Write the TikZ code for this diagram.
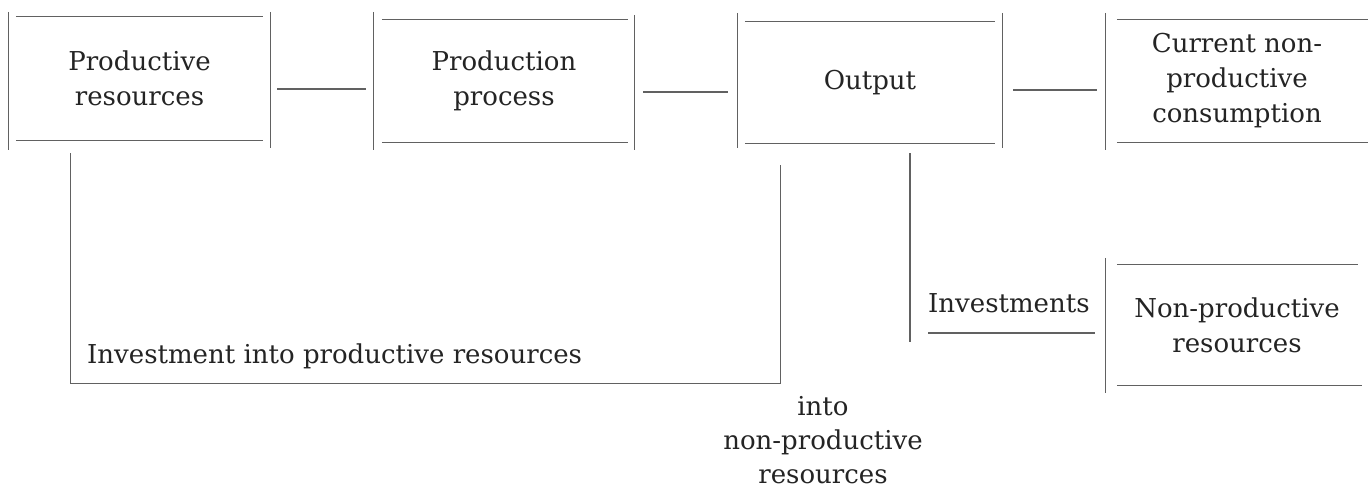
\documentclass[tikz,border=0pt]{standalone}
\usepackage{fontspec}
\setmainfont{DejaVu Serif}
\usetikzlibrary{calc}
\definecolor{ink}{rgb}{0.14,0.14,0.14}
\definecolor{rulegray}{rgb}{0.38,0.38,0.38}
\begin{document}
\begin{tikzpicture}[x=1pt,y=-1pt,
  boxarea/.style={draw=none,inner sep=0pt,align=center,text=ink,font=\fontsize{26}{35}\selectfont},
  lbl/.style={inner sep=0pt,align=center,text=ink,font=\fontsize{26}{35}\selectfont},
  ln/.style={draw=rulegray,line width=1.1pt}]
\useasboundingbox (0,0) rectangle (1368,489);

% boxes
\node[boxarea,minimum width=261pt,minimum height=123pt] (pr) at (139.5,78.5) {Productive\\resources};
\node[boxarea,minimum width=260pt,minimum height=122pt] (pp) at (504,81) {Production\\process};
\node[boxarea,minimum width=264pt,minimum height=121pt] (out) at (870,82.5) {Output};
\node[boxarea,minimum width=262pt,minimum height=122pt] (cnc) at (1237,81) {Current non-\\productive\\consumption};
\node[boxarea,minimum width=262pt,minimum height=120pt] (npr) at (1237,325) {Non-productive\\resources};

% box outlines (open line drawings)
\draw[ln] ([yshift=5pt]pr.north west) -- ([yshift=-10pt]pr.south west);
\draw[ln] ([yshift=5pt]pr.north east) -- ([yshift=-8pt]pr.south east);
\draw[ln] ([xshift=7pt]pr.north west) -- ([xshift=-7pt]pr.north east);
\draw[ln] ([xshift=7pt]pr.south west) -- ([xshift=-7pt]pr.south east);

\draw[ln] ([yshift=8pt]pp.north west) -- ([yshift=-8pt]pp.south west);
\draw[ln] ([yshift=5pt]pp.north east) -- ([yshift=-8pt]pp.south east);
\draw[ln] ([xshift=8pt]pp.north west) -- ([xshift=-6pt]pp.north east);
\draw[ln] ([xshift=8pt]pp.south west) -- ([xshift=-6pt]pp.south east);

\draw[ln] ([yshift=9pt]out.north west) -- ([yshift=-5pt]out.south west);
\draw[ln] ([yshift=9pt]out.north east) -- ([yshift=-5pt]out.south east);
\draw[ln] ([xshift=7pt]out.north west) -- ([xshift=-7pt]out.north east);
\draw[ln] ([xshift=7pt]out.south west) -- ([xshift=-7pt]out.south east);

\draw[ln] ([yshift=7pt]cnc.north west) -- ([yshift=-8pt]cnc.south west);
\draw[ln] ([xshift=11pt]cnc.north west) -- (cnc.north east);
\draw[ln] ([xshift=11pt]cnc.south west) -- (cnc.south east);

\draw[ln] ([yshift=7pt]npr.north west) -- ([yshift=-8pt]npr.south west);
\draw[ln] ([xshift=11pt]npr.north west) -- ([xshift=-10pt]npr.north east);
\draw[ln] ([xshift=11pt]npr.south west) -- ([xshift=-6pt]npr.south east);

% connectors between boxes
\draw[ln] ([xshift=7pt,yshift=-10.5pt]pr.east) -- ([xshift=-8pt,yshift=-8pt]pp.west);
\draw[ln] ([xshift=9pt,yshift=-11pt]pp.east) -- ([xshift=-10pt,yshift=-9.5pt]out.west);
\draw[ln] ([xshift=11pt,yshift=-7.5pt]out.east) -- ([xshift=-9pt,yshift=-9pt]cnc.west);

% investment into productive resources (feedback loop)
\draw[ln] ($(out.south west)+(43,22)$) -- ++(0,218) -| ($(pr.south west)+(62,13)$);
\node[lbl,anchor=base west] (ipr) at (87,363) {Investment into productive resources};

% investments branch
\node[lbl,anchor=base west] (inv) at (928,312) {Investments};
\draw[ln] ($(out.south)+(40,10)$) -- ($(inv.base west)+(-18,30)$);
\draw[ln] ($(inv.base west)+(0,21)$) -- ($(inv.base east)+(5,21)$);

% label under the loop
\node[lbl,font=\fontsize{26}{34}\selectfont] (inpr) at (823,440) {into\\non-productive\\resources};
\end{tikzpicture}
\end{document}
